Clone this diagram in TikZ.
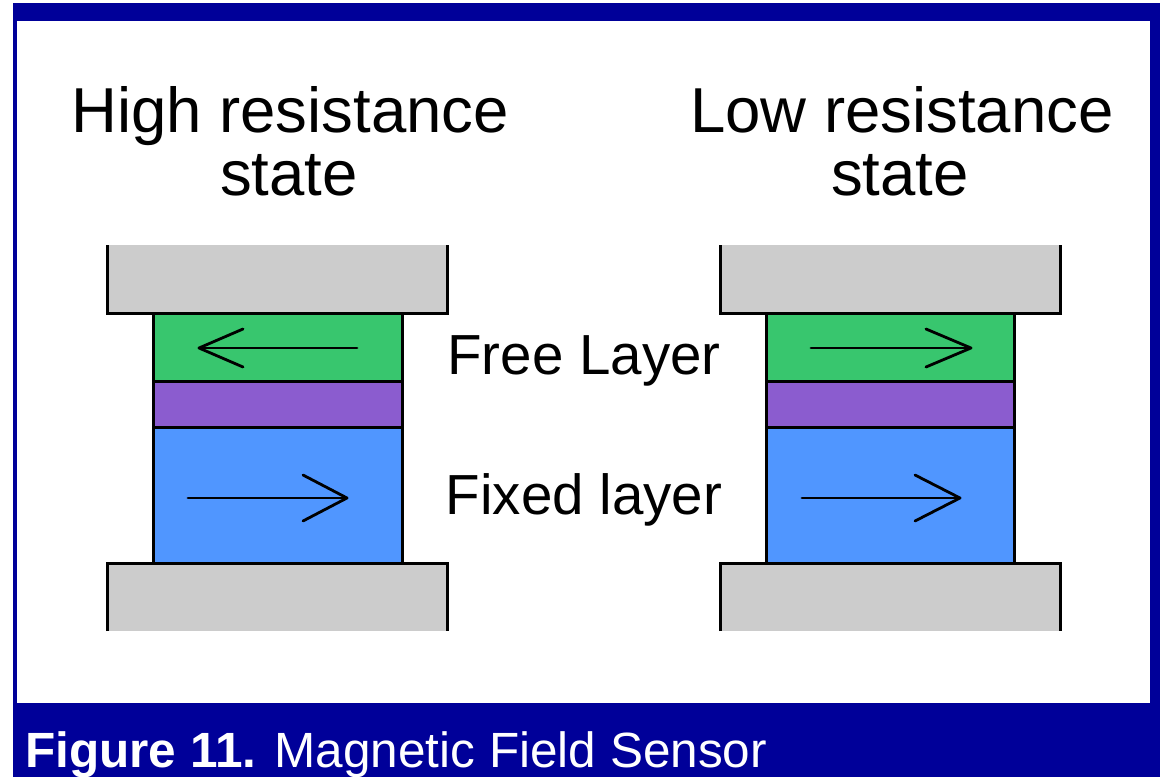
\documentclass[tikz,border=0pt]{standalone}
\usepackage{fontspec}
\setmainfont{Liberation Sans}
\definecolor{frameblue}{RGB}{0,0,153}
\definecolor{freegreen}{RGB}{56,198,110}
\definecolor{barrier}{RGB}{139,92,207}
\definecolor{fixedblue}{RGB}{80,150,255}
\definecolor{contact}{RGB}{204,204,204}
\tikzset{
  layer/.style={draw=black, line width=3pt},
  edge/.style={draw=black, line width=3pt, line join=miter},
  magarrow/.style={draw=black, line width=2.8pt, line join=round, line cap=round},
  title/.style={font=\fontsize{63.5}{64}\selectfont, anchor=base, inner sep=0pt},
  label/.style={font=\fontsize{56.5}{58}\selectfont, anchor=base, inner sep=0pt},
}
\begin{document}
\begin{tikzpicture}[x=1pt,y=-1pt]
\useasboundingbox (0,0) rectangle (1163,777);
\fill[white] (0,0) rectangle (1163,777);
\fill[frameblue] (13,3) rectangle (1160,777);
\fill[white] (17,21) rectangle (1150,703);

% titles
\node[title] (hi1) at (290,132) {High resistance};
\node[title] (hi2) at (289,195) {state};
\node[title] (lo1) at (902,132) {Low resistance};
\node[title] (lo2) at (900,195) {state};

% left stack
\fill[contact] (107,245) rectangle (447,313);
\draw[edge] (107,245) -- (107,313) -- (447,313) -- (447,245);
\draw[layer, fill=freegreen] (153,313) rectangle (402,381);
\draw[layer, fill=barrier] (153,381) rectangle (402,427);
\draw[layer, fill=fixedblue] (153,427) rectangle (402,563);
\fill[contact] (107,563) rectangle (447,631);
\draw[edge] (107,631) -- (107,563) -- (447,563) -- (447,631);
\draw[magarrow] (357,348) -- (199,348);
\draw[magarrow] (243,329) -- (199,348) -- (243,367);
\draw[magarrow] (188,498) -- (347,498);
\draw[magarrow] (303,475) -- (347,498) -- (303,521);

% right stack
\fill[contact] (720,245) rectangle (1060,313);
\draw[edge] (720,245) -- (720,313) -- (1060,313) -- (1060,245);
\draw[layer, fill=freegreen] (766,313) rectangle (1014,381);
\draw[layer, fill=barrier] (766,381) rectangle (1014,427);
\draw[layer, fill=fixedblue] (766,427) rectangle (1014,563);
\fill[contact] (720,563) rectangle (1060,631);
\draw[edge] (720,631) -- (720,563) -- (1060,563) -- (1060,631);
\draw[magarrow] (811,348) -- (971,348);
\draw[magarrow] (926,329) -- (971,348) -- (926,367);
\draw[magarrow] (802,498) -- (960,498);
\draw[magarrow] (915,475) -- (960,498) -- (915,521);

% labels
\node[label] (free) at (584,374) {Free Layer};
\node[label] (fixed) at (584,514) {Fixed layer};

% caption
\node[anchor=base west, inner sep=0pt, text=white, font=\fontsize{49.5}{50}\selectfont] (cap) at (25,767) {\textbf{Figure 11.} Magnetic Field Sensor};
\end{tikzpicture}
\end{document}
